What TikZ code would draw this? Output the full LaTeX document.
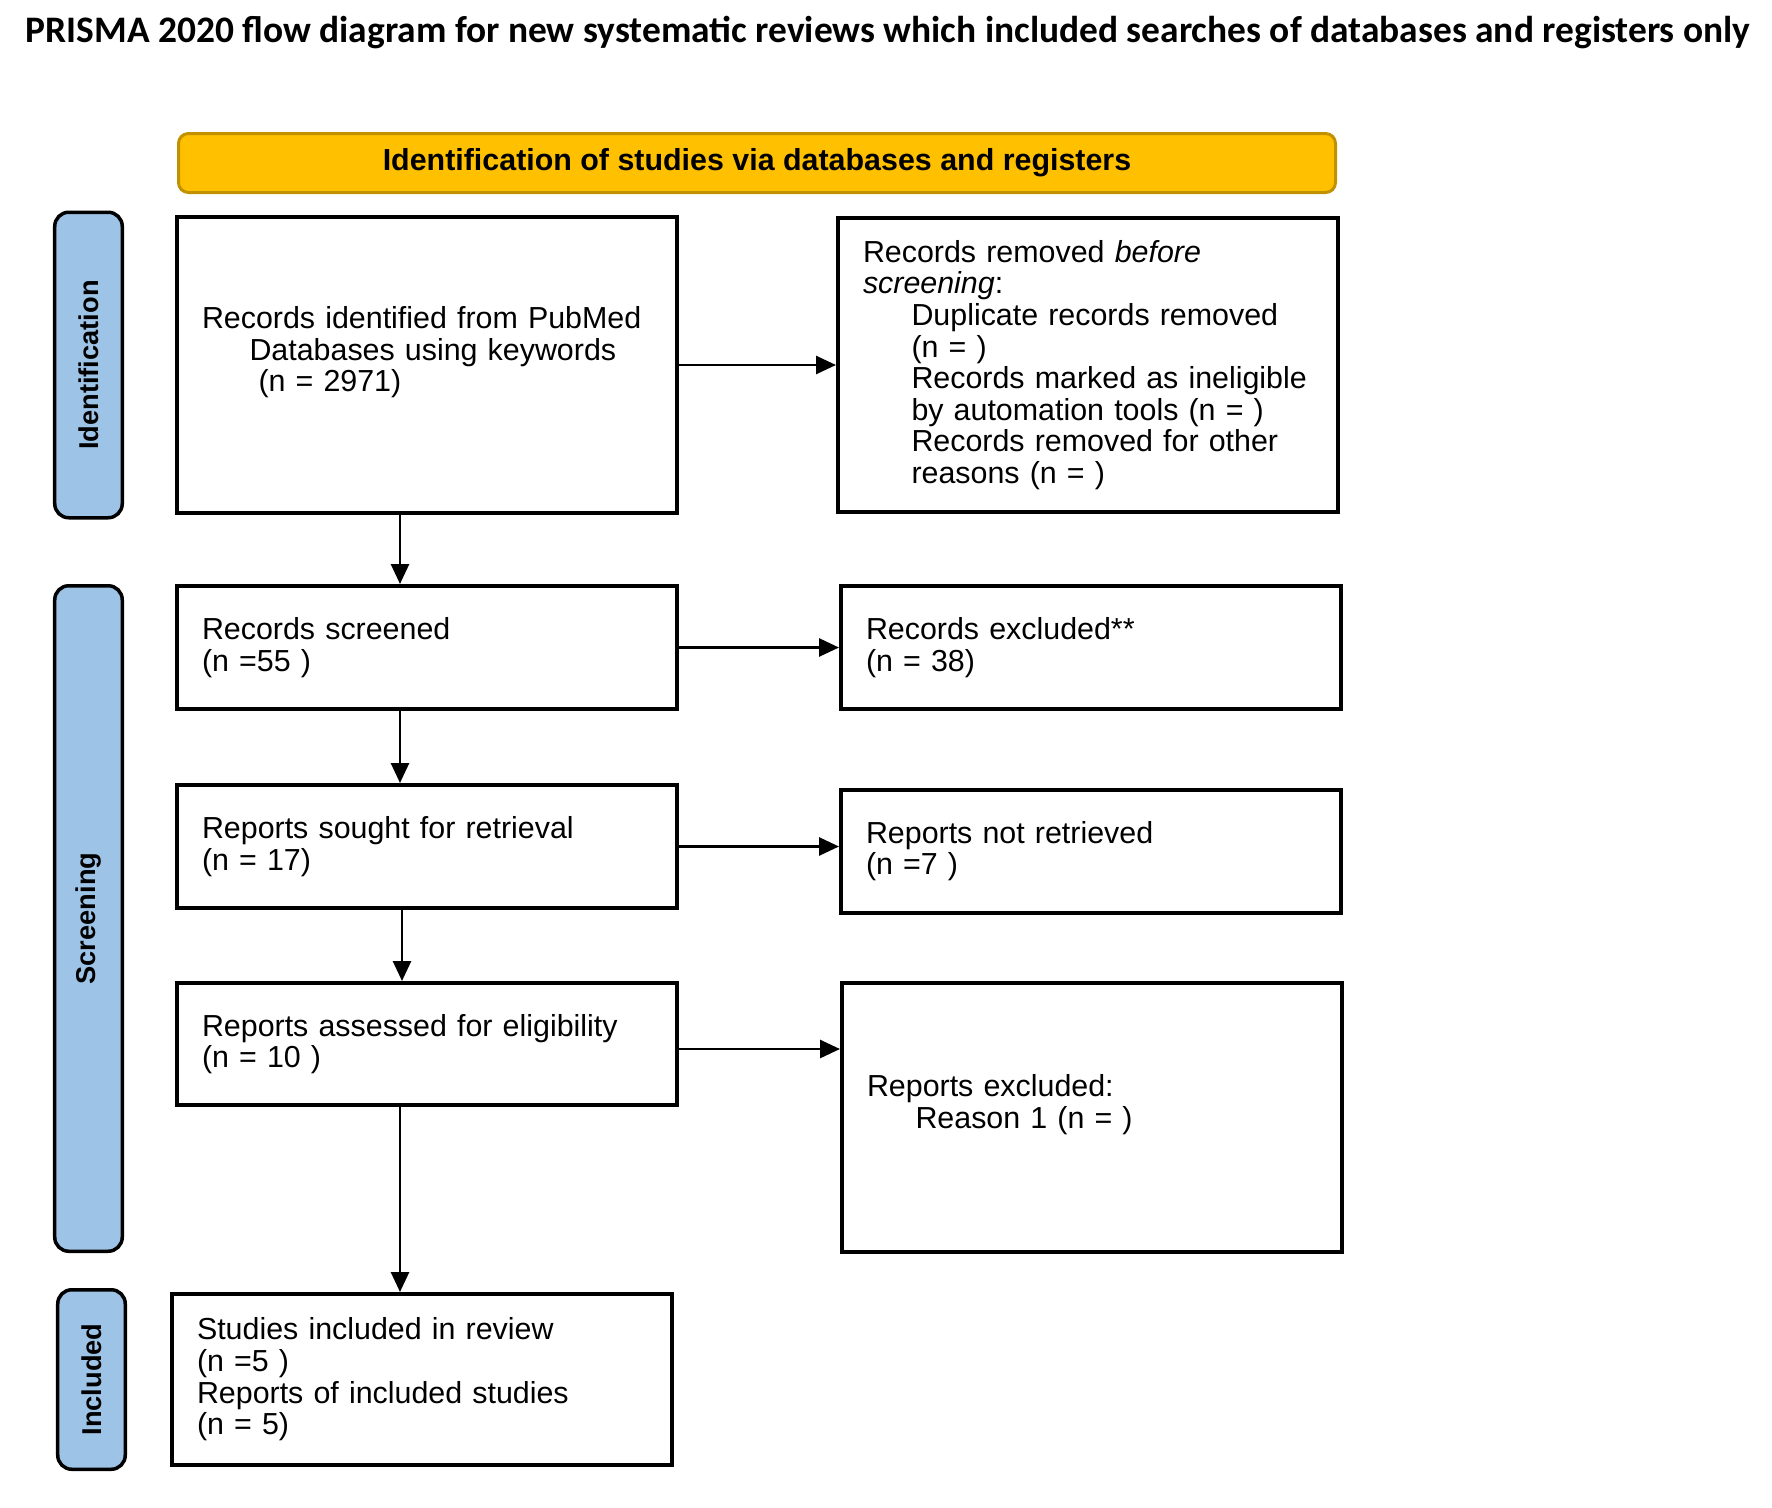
\documentclass[tikz,border=0pt]{standalone}
\usepackage{fontspec}
\setmainfont{Liberation Sans}
\newfontfamily\titlefont{Carlito}
\usepackage{tikz}
\usetikzlibrary{arrows.meta, positioning}

\definecolor{bannerfill}{HTML}{FFC000}
\definecolor{bannerdraw}{HTML}{C29100}
\definecolor{labelfill}{HTML}{9DC3E6}

\newcommand{\indnt}{\hspace*{0.97cm}}

\begin{document}
\begin{tikzpicture}[
    node distance=1.4cm and 3.2cm,
    box/.style={rectangle, draw, line width=0.08cm, align=left,
                text width=9.0cm, inner xsep=0.5cm,
                font=\fontsize{17.3}{18}\selectfont, minimum height=2.46cm},
    banner/.style={rectangle, rounded corners=0.2cm, draw=bannerdraw, fill=bannerfill,
                line width=0.06cm, minimum width=23.14cm, minimum height=1.18cm,
                font=\bfseries\fontsize{17.3}{18}\selectfont},
    sidelab/.style={rectangle, rounded corners=0.28cm, draw, fill=labelfill,
                line width=0.07cm, minimum width=1.35cm, inner sep=0pt,
                font=\bfseries\fontsize{15.5}{16}\selectfont},
    arrow/.style={-{Triangle[length=0.4cm, width=0.36cm]}, line width=0.055cm}
]

\useasboundingbox (0,0) rectangle (35.44,-30.16);

\node[font=\titlefont\bfseries\fontsize{21.3}{22}\selectfont] (title) at (17.76,-0.66)
    {PRISMA 2020 flow diagram for new systematic reviews which included searches of databases and registers only};

\node[box, minimum height=5.92cm] (ident) at (8.54,-7.30)
    {Records identified from PubMed\\
     \hspace*{0.95cm}Databases using keywords\\
     \hspace*{1.13cm}(n = 2971)\\\mbox{}};
\node[banner, above=0.42cm of ident.north west, anchor=south west, xshift=0.04cm] (banner)
    {Identification of studies via databases and registers};
\node[box, minimum height=5.88cm, right=3.14cm of ident] (removed)
    {Records removed \textit{before}\\
     \textit{screening}:\\
     \indnt Duplicate records removed\\
     \indnt (n = )\\
     \indnt Records marked as ineligible\\
     \indnt by automation tools (n = )\\
     \indnt Records removed for other\\
     \indnt reasons (n = )};

\node[box, below=1.38cm of ident]   (screened) {Records screened\\(n =55 )};
\node[box, right=of screened]       (excluded) {Records excluded**\\(n = 38)};

\node[box, below=1.44cm of screened] (sought)  {Reports sought for retrieval\\(n = 17)};
\node[box, right=of sought, yshift=-0.09cm] (notretr) {Reports not retrieved\\(n =7 )};

\node[box, minimum height=2.44cm, below=1.42cm of sought] (assessed)
    {Reports assessed for eligibility\\(n = 10 )};
\node[box, minimum height=5.38cm, right=3.22cm of assessed.north east, anchor=north west] (rexcl)
    {Reports excluded:\\
     \indnt Reason 1 (n = )\\\mbox{}};

\node[box, minimum height=3.42cm, below=3.7cm of assessed, xshift=-0.1cm] (included)
    {Studies included in review\\
     (n =5 )\\
     Reports of included studies\\
     (n = 5)};

\node[sidelab, minimum height=6.11cm, left=1.02cm of ident] (idlab)
    {\rotatebox{90}{Identification}};
\node[sidelab, minimum height=13.31cm, left=1.02cm of screened.north west, anchor=north east] (scrlab)
    {\rotatebox{90}{Screening}};
\node[sidelab, minimum height=3.59cm, left=0.86cm of included] (inclab)
    {\rotatebox{90}{Included}};

\draw[arrow] (ident.east)    -- (ident.east -| removed.west);
\draw[arrow] (screened.east) -- (screened.east -| excluded.west);
\draw[arrow] (sought.east)   -- (sought.east -| notretr.west);
\draw[arrow] ([yshift=-0.1cm]assessed.east) -- ([yshift=-0.1cm]assessed.east -| rexcl.west);
\draw[arrow] ([xshift=-0.54cm]ident.south)    -- ([xshift=-0.54cm]screened.north);
\draw[arrow] ([xshift=-0.54cm]screened.south) -- ([xshift=-0.54cm]sought.north);
\draw[arrow] ([xshift=-0.5cm]sought.south)    -- ([xshift=-0.5cm]assessed.north);
\draw[arrow] ([xshift=-0.54cm]assessed.south) -- ([xshift=-0.54cm]assessed.south |- included.north);

\end{tikzpicture}
\end{document}
